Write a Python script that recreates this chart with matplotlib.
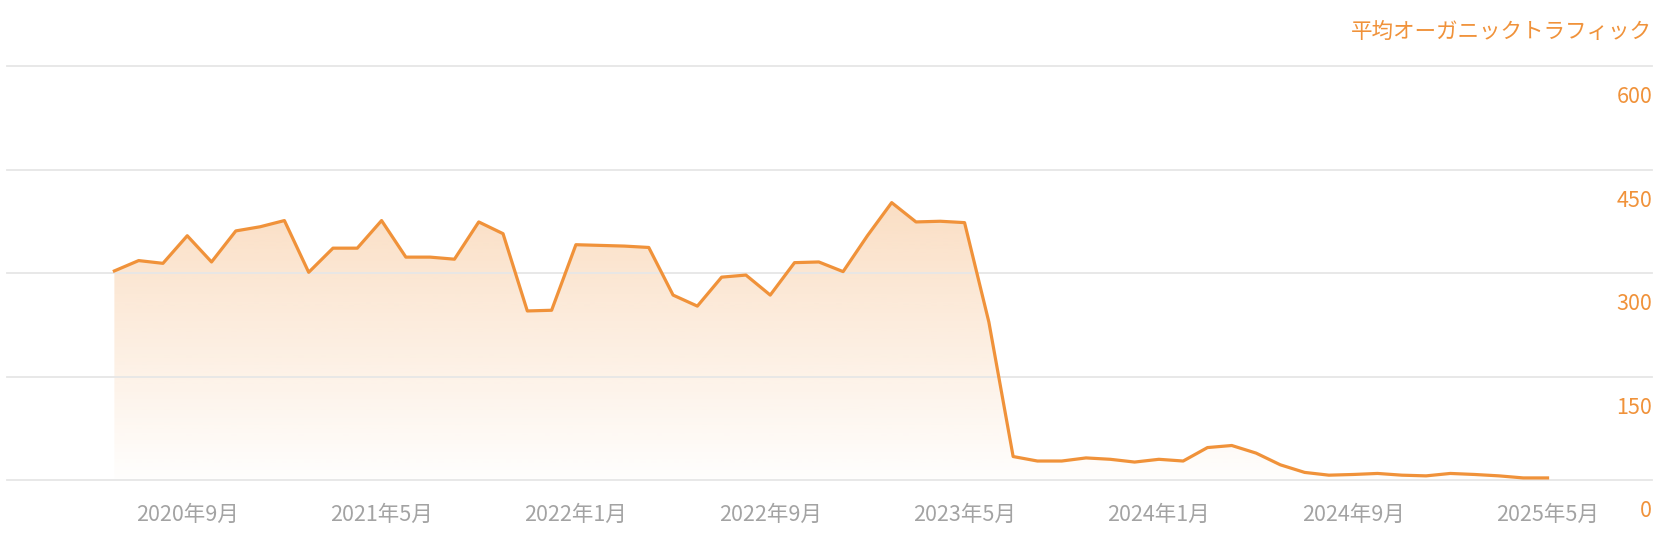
import matplotlib
matplotlib.use('Agg')
import matplotlib.pyplot as plt
import numpy as np

plt.rcParams['font.family'] = ['Noto Sans CJK JP', 'DejaVu Sans']

# monthly average organic traffic, 2020-06 .. 2025-05
traffic = [303, 318, 314, 354, 316, 361, 367, 376, 301, 336,
           336, 376, 323, 323, 320, 374, 357, 245, 246, 341,
           340, 339, 337, 268, 252, 294, 297, 268, 315, 316,
           302, 354, 402, 374, 375, 373, 229, 34, 27.5, 27.5,
           32, 30, 26, 30, 27.5, 47, 50, 39, 22, 11,
           7, 8, 9.5, 7, 6, 9.5, 8, 6, 3, 3]
tick_idx = [3, 11, 19, 27, 35, 43, 51, 59]
tick_labels = ['2020年9月', '2021年5月', '2022年1月', '2022年9月',
               '2023年5月', '2024年1月', '2024年9月', '2025年5月']
y_ticks = [0, 150, 300, 450, 600]
title = '平均オーガニックトラフィック'

orange = '#f0923a'
W, H = 1672, 544

fig = plt.figure(figsize=(W / 100, H / 100), dpi=100)
ax = fig.add_axes([7 / W, 64 / H, 1645 / W, 414 / H])

x = np.arange(len(traffic))
top = max(traffic)

# vertical gradient under the line
vals = np.linspace(0, top, 256)
grad = np.zeros((256, 1, 4))
grad[:, 0, :3] = matplotlib.colors.to_rgb(orange)
grad[:, 0, 3] = 0.01 + 0.29 * vals / top
im = ax.imshow(grad, extent=[0, len(traffic) - 1, 0, top], origin='lower',
               aspect='auto', zorder=1, interpolation='bilinear')
poly = ax.fill_between(x, traffic, 0, facecolor='none', edgecolor='none')
im.set_clip_path(poly.get_paths()[0], transform=ax.transData)

for v in y_ticks:
    ax.axhline(v, color='#e6e6e6', lw=1.3, zorder=2, clip_on=False)
    ax.annotate(str(v), xy=(1, v), xycoords=('axes fraction', 'data'),
                xytext=(0, -22.5), textcoords='offset points',
                ha='right', va='center', color=orange, fontsize=15.5)

ax.plot(x, traffic, color=orange, lw=2.3, zorder=3)

ax.set_xlim(-4.42, 63.30)
ax.set_ylim(0, 600)
for s in ax.spines.values():
    s.set_visible(False)
ax.set_yticks([])
ax.set_xticks(tick_idx)
ax.set_xticklabels(tick_labels, color='#a3a3a3', fontsize=15.5)
ax.tick_params(axis='x', length=0, pad=17)

fig.text(1652 / W, 1 - 32 / H, title, ha='right', va='center',
         color=orange, fontsize=15.5)

fig.savefig('out.png', dpi=100)
